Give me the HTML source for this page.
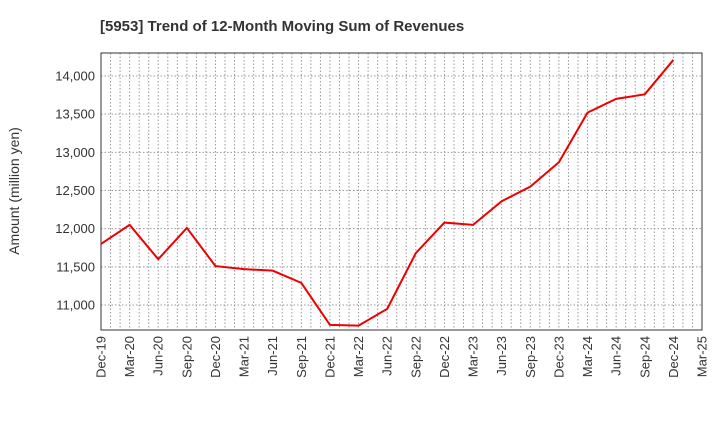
<!DOCTYPE html>
<html><head><meta charset="utf-8"><style>
body{margin:0;background:#fff;font-family:"Liberation Sans",sans-serif}
</style></head><body>
<svg id="chart" width="720" height="440" xmlns="http://www.w3.org/2000/svg">
<text x="100" y="31" font-size="15" font-weight="bold" fill="#333">[5953]  Trend of 12-Month Moving Sum of Revenues</text>
<text transform="translate(19,191) rotate(-90)" text-anchor="middle" font-size="14" fill="#333">Amount (million yen)</text>
<g id="grid"></g><g id="axes"></g><g id="series"></g>
</svg>
<script>
const categories=["Dec-19","Mar-20","Jun-20","Sep-20","Dec-20","Mar-21","Jun-21","Sep-21","Dec-21","Mar-22","Jun-22","Sep-22","Dec-22","Mar-23","Jun-23","Sep-23","Dec-23","Mar-24","Jun-24","Sep-24","Dec-24","Mar-25"];
const revenues=[11800,12050,11600,12010,11510,11470,11450,11290,10740,10730,10950,11680,12080,12050,12360,12550,12870,13520,13700,13760,14210];
const yTicks=[11000,11500,12000,12500,13000,13500,14000];
const L=101,R=702,T=53,B=330,yMin=10673,yMax=14301;
const ns="http://www.w3.org/2000/svg";
const xs=i=>L+(R-L)*i/(categories.length-1);
const ys=v=>B-(v-yMin)/(yMax-yMin)*(B-T);
function mk(t,a,p){const e=document.createElementNS(ns,t);for(const k in a)e.setAttribute(k,a[k]);p.appendChild(e);return e;}
const g=document.getElementById('grid'),ax=document.getElementById('axes'),s=document.getElementById('series');
const nm=(categories.length-1)*3;
for(let m=1;m<nm;m++){const x=L+(R-L)*m/nm;const l=mk('line',{x1:x,x2:x,y1:T,y2:B,stroke:'#999','stroke-dasharray':'1.5,2','stroke-width':1},g);

}
yTicks.forEach(v=>{const y=ys(v);const l=mk('line',{x1:L,x2:R,y1:y,y2:y,stroke:'#999','stroke-dasharray':'1.5,2'},g);


const t=mk('text',{x:L-6,y:y+4.5,'text-anchor':'end','font-size':13,fill:'#333'},ax);t.textContent=v.toLocaleString('en-US');

});
const f=mk('rect',{x:L,y:T,width:R-L,height:B-T,fill:'none',stroke:'#333'},ax);


categories.forEach((c,i)=>{const x=xs(i);const t=mk('text',{transform:`translate(${x+4.5},${B+6}) rotate(-90)`,'text-anchor':'end','font-size':13,fill:'#333'},ax);t.textContent=c;

});
const p=mk('polyline',{points:revenues.map((v,i)=>xs(i)+','+ys(v)).join(' '),fill:'none',stroke:'#ee0000','stroke-width':2},s);


</script>
</body></html>
